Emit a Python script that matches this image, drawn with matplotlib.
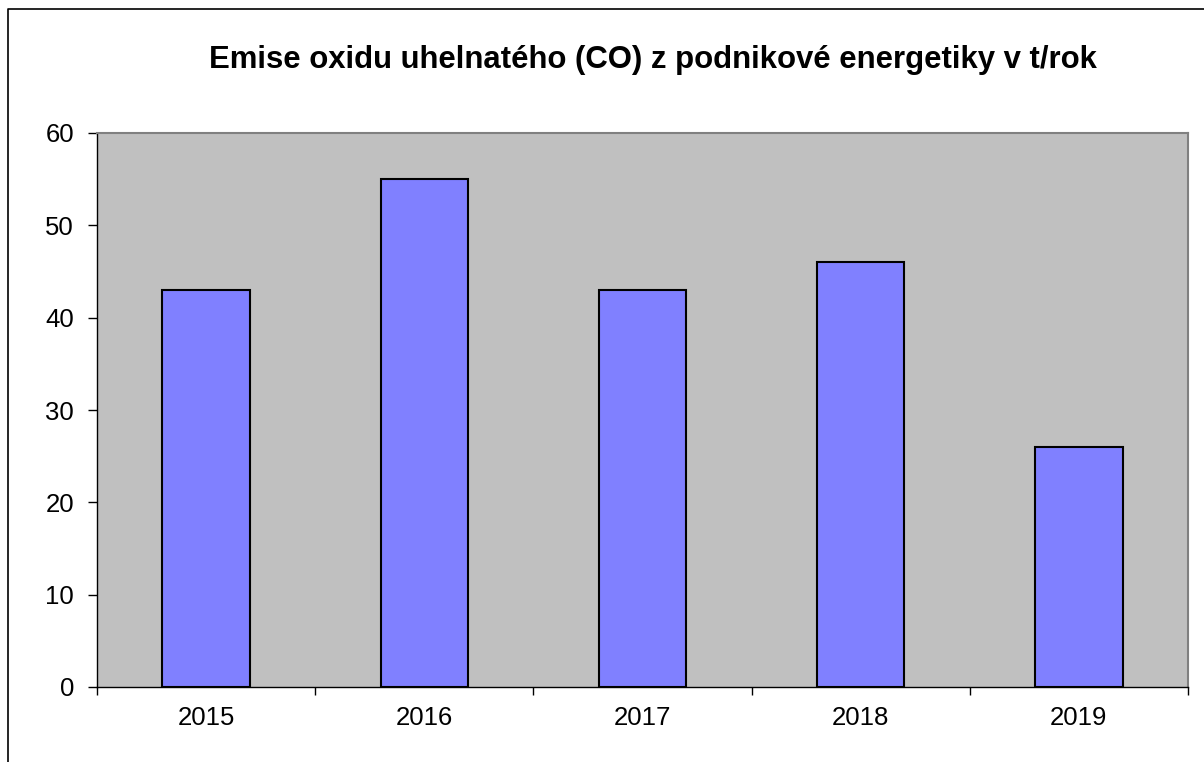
import numpy as np
import matplotlib.pyplot as plt
from matplotlib.lines import Line2D

roky = ['2015', '2016', '2017', '2018', '2019']
emise_co = [43, 55, 43, 46, 26]
titulek = 'Emise oxidu uhelnatého (CO) z podnikové energetiky v t/rok'

plt.rcParams['font.family'] = ['Liberation Sans', 'DejaVu Sans']

fig = plt.figure(figsize=(12.04, 7.62), dpi=100)
ax = fig.add_axes([97/1204, 75/762, (1188-97)/1204, (687-133)/762])

x = np.arange(len(roky))
ax.bar(x, emise_co, width=0.4, color='#8080FF', edgecolor='black', linewidth=1.5)

ax.set_facecolor('#C0C0C0')
ax.set_xlim(-0.5, len(roky) - 0.5)
ax.set_ylim(0, 60)
ax.set_yticks(np.arange(0, 61, 10))

# popisky na stredech kategorii, carky na hranicich
ax.set_xticks(x)
ax.set_xticklabels(roky)
ax.set_xticks(np.arange(-0.5, len(roky)), minor=True)
ax.tick_params(axis='x', which='major', length=0, pad=14, labelsize=18.5)
ax.tick_params(axis='x', which='minor', length=6, width=1, direction='out')
ax.tick_params(axis='y', length=6.5, width=1, pad=10, labelsize=18.5)

for s in ['top', 'right']:
    ax.spines[s].set_color('#808080')
    ax.spines[s].set_linewidth(1.5)
for s in ['left', 'bottom']:
    ax.spines[s].set_color('black')
    ax.spines[s].set_linewidth(1)

fig.text(653/1204, 1 - 60/762, titulek, ha='center', va='center',
         fontsize=22.4, fontweight='bold')

# ramecek grafu (oriznuty vpravo a dole)
fig.add_artist(Line2D([8/1204, 8/1204, 1.0], [0.0, 1 - 9/762, 1 - 9/762],
                      transform=fig.transFigure, color='black', linewidth=1.2))

fig.savefig('out.png', dpi=100)
